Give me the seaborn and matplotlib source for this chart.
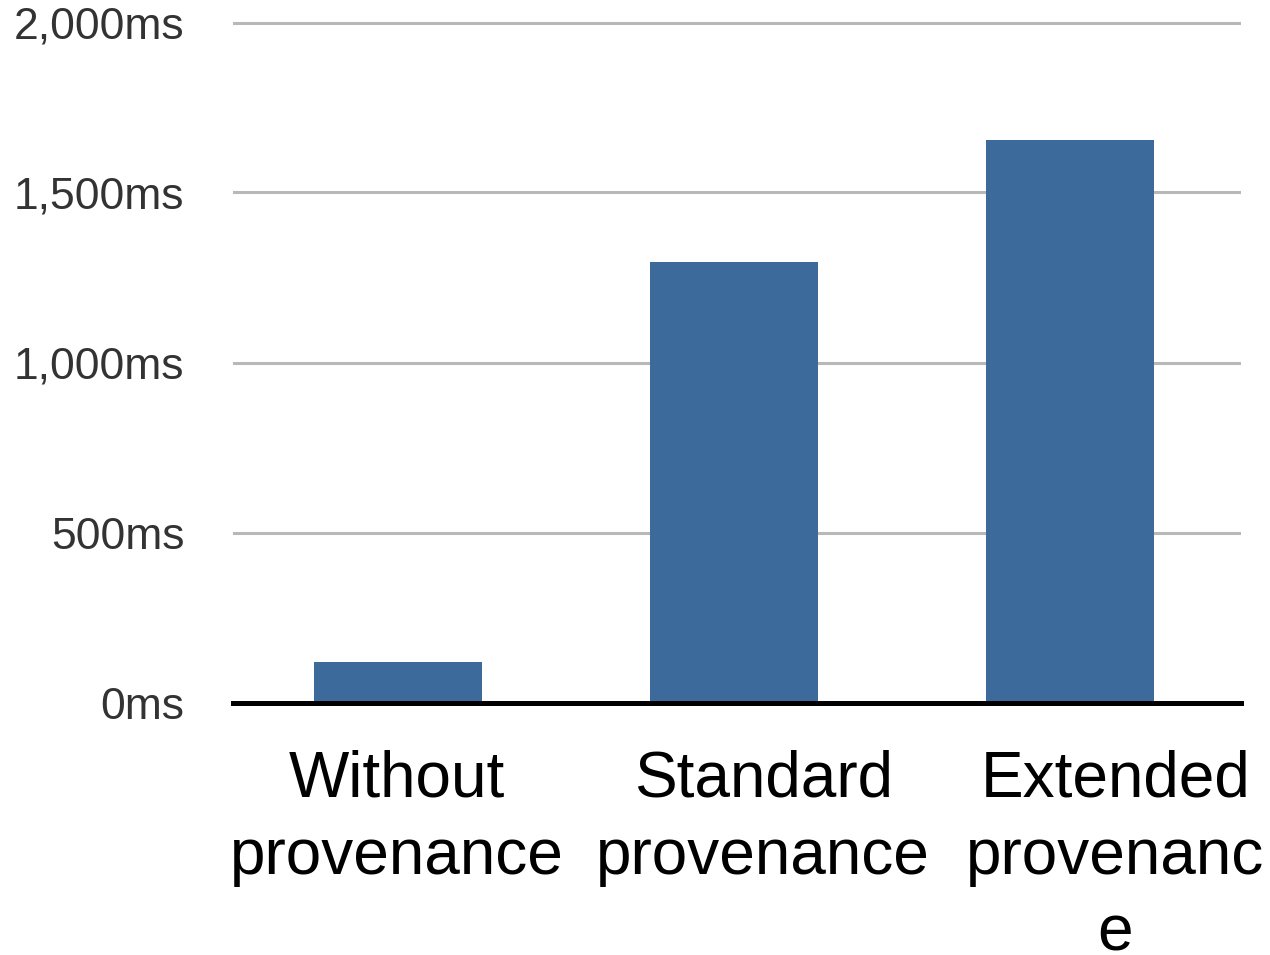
import matplotlib
matplotlib.use("Agg")
import matplotlib.pyplot as plt
import matplotlib.transforms as mtransforms
from matplotlib.ticker import FuncFormatter, FixedLocator
import seaborn as sns
import pandas as pd

# Run time per provenance mode
categories = ["Without\nprovenance", "Standard\nprovenance", "Extended\nprovenanc\ne"]
times_ms = [120, 1295, 1655]
y_ticks = [0, 500, 1000, 1500, 2000]

sns.set_theme(style="white")
plt.rcParams["font.family"] = ["Liberation Sans", "DejaVu Sans"]

df = pd.DataFrame({"mode": categories, "time": times_ms})

W, H, DPI = 1270, 955, 100
fig = plt.figure(figsize=(W / DPI, H / DPI), dpi=DPI)

y_top = 2010
px_per_unit = 680 / 2000
ax_h = y_top * px_per_unit
zero_y = 702.5
ax = fig.add_axes([233 / W, (H - zero_y) / H, 1008 / W, ax_h / H])

sns.barplot(data=df, x="mode", y="time", color="#3c6b9b", saturation=1,
            width=0.5, linewidth=0, ax=ax, zorder=3)

ax.set_xlim(-0.492, 2.508)
ax.set_ylim(0, y_top)
ax.yaxis.set_major_locator(FixedLocator(y_ticks))
ax.yaxis.set_major_formatter(FuncFormatter(lambda v, _: f"{v:,.0f}ms"))
ax.set_xlabel("")
ax.set_ylabel("")

ax.set_axisbelow(True)
ax.yaxis.grid(True, color="#b8b8b8", linewidth=2.2)
ax.xaxis.grid(False)

for side in ["left", "right", "top"]:
    ax.spines[side].set_visible(False)
ax.spines["bottom"].set_color("black")
ax.spines["bottom"].set_linewidth(3.6)
ax.spines["bottom"].set_zorder(5)

ax.tick_params(axis="y", length=0, pad=35, labelsize=32, labelcolor="#333333")
ax.tick_params(axis="x", length=0, pad=34, labelsize=46, labelcolor="black")

# nudge the category labels horizontally (pixels)
label_shift_px = [-1, 29, 45]
for lbl, dx in zip(ax.get_xticklabels(), label_shift_px):
    lbl.set_linespacing(1.36)
    lbl.set_transform(lbl.get_transform() +
                      mtransforms.ScaledTranslation(dx / DPI, 0, fig.dpi_scale_trans))

fig.savefig("out.png", dpi=DPI, facecolor="white")
